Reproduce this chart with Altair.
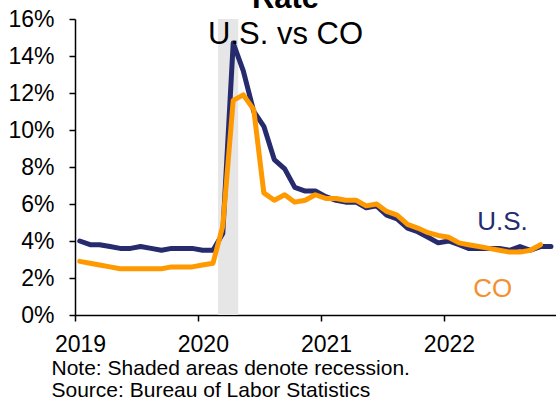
import altair as alt
import pandas as pd

# Monthly unemployment rate (%), Jan 2019 onward
US_RATE = [
    4.0, 3.8, 3.8, 3.7, 3.6, 3.6, 3.7, 3.6, 3.5, 3.6, 3.6, 3.6,
    3.5, 3.5, 4.4, 14.7, 13.2, 11.0, 10.2, 8.4, 7.9, 6.9, 6.7, 6.7,
    6.4, 6.2, 6.1, 6.1, 5.8, 5.9, 5.4, 5.2, 4.7, 4.5, 4.2, 3.9,
    4.0, 3.8, 3.6, 3.6, 3.6, 3.6, 3.5, 3.7, 3.5, 3.7, 3.7,
]
CO_RATE = [
    2.9, 2.8, 2.7, 2.6, 2.5, 2.5, 2.5, 2.5, 2.5, 2.6, 2.6, 2.6,
    2.7, 2.8, 4.8, 11.6, 11.9, 11.1, 6.6, 6.2, 6.5, 6.1, 6.2, 6.5,
    6.3, 6.3, 6.2, 6.2, 5.9, 6.0, 5.6, 5.4, 4.9, 4.7, 4.45, 4.3,
    4.2, 3.9, 3.8, 3.7, 3.6, 3.5, 3.4, 3.4, 3.5, 3.8,
]
MONTHS = [f"{y}-{m:02d}-15" for y in range(2019, 2023) for m in range(1, 13)]

RECESSION_START = ["2020-03-01"]
RECESSION_END = ["2020-04-30"]

YEARS = [2019, 2020, 2021, 2022]
Y_TICKS = [0, 2, 4, 6, 8, 10, 12, 14, 16]

SERIES_LABELS = ["U.S.", "CO"]
SERIES_LABEL_DATES = ["2022-06-24", "2022-05-26"]
SERIES_LABEL_RATES = [4.6, 0.97]

NAVY = "#262b6e"
ORANGE = "#ff9900"
CO_TEXT = "#f39130"
SHADE = "#e6e6e6"
FONT = "Liberation Sans"

us = pd.DataFrame({"date": MONTHS[:len(US_RATE)], "rate": US_RATE})
co = pd.DataFrame({"date": MONTHS[:len(CO_RATE)], "rate": CO_RATE})
rec = pd.DataFrame({"start": RECESSION_START, "end": RECESSION_END})
labels = pd.DataFrame({
    "text": SERIES_LABELS,
    "date": SERIES_LABEL_DATES,
    "rate": SERIES_LABEL_RATES,
    "color": [NAVY, CO_TEXT],
})

x_scale = alt.Scale(
    type="utc",
    domain=[
        alt.DateTime(year=2019, month=1, date=1, utc=True),
        alt.DateTime(year=2022, month=11, date=30, utc=True),
    ],
    nice=False,
)
x_axis = alt.Axis(
    values=[alt.DateTime(year=y, month=1, date=1, utc=True) for y in YEARS],
    format="%Y",
    formatType="utc",
    labelFlush=False,
    labelBaseline="alphabetic",
    labelPadding=30.5,
    labelOffset=5,
    title=["Note: Shaded areas denote recession.", "Source: Bureau of Labor Statistics"],
    titleFont=FONT,
    titleFontSize=21,
    titleFontWeight="normal",
    titleColor="black",
    titleAlign="left",
    titleBaseline="alphabetic",
    titleX=-24,
    titleY=59,
    titleLineHeight=22.5,
)
y_scale = alt.Scale(domain=[0, 16], nice=False)
y_axis = alt.Axis(
    values=Y_TICKS,
    labelExpr="datum.value + '%'",
    labelPadding=15,
    title=None,
)

shade = alt.Chart(rec).mark_rect(color=SHADE).encode(
    x=alt.X("start:T", scale=x_scale, axis=x_axis),
    x2="end:T",
)

us_line = alt.Chart(us).mark_line(
    color=NAVY, strokeWidth=5, strokeCap="round", strokeJoin="round"
).encode(
    x=alt.X("date:T", scale=x_scale, axis=x_axis),
    y=alt.Y("rate:Q", scale=y_scale, axis=y_axis),
)

co_line = alt.Chart(co).mark_line(
    color=ORANGE, strokeWidth=5, strokeCap="round", strokeJoin="round"
).encode(
    x=alt.X("date:T", scale=x_scale, axis=x_axis),
    y=alt.Y("rate:Q", scale=y_scale, axis=y_axis),
)

series_text = alt.Chart(labels).mark_text(
    font=FONT, fontSize=26, align="center", baseline="alphabetic"
).encode(
    x=alt.X("date:T", scale=x_scale, axis=x_axis),
    y=alt.Y("rate:Q", scale=y_scale, axis=y_axis),
    text="text:N",
    color=alt.Color("color:N", scale=None),
)

chart = alt.layer(shade, us_line, co_line, series_text).properties(
    width=481,
    height=296,
    padding={"left": 75, "top": 19, "right": 0, "bottom": 85},
    autosize=alt.AutoSizeParams(type="none"),
    background="white",
    title=alt.TitleParams(
        text="Rate",
        subtitle="U.S. vs CO",
        font=FONT,
        fontSize=31,
        fontWeight="bold",
        color="black",
        subtitleFont=FONT,
        subtitleFontSize=31,
        subtitleFontWeight="normal",
        subtitleColor="black",
        subtitlePadding=5,
        anchor="middle",
        frame="group",
        offset=-35,
        dx=-30,
        dy=8,
    ),
).configure_axis(
    domainColor="black",
    domainWidth=1.5,
    tickColor="black",
    tickWidth=1.5,
    tickSize=6,
    labelFont=FONT,
    labelFontSize=23,
    labelColor="black",
    grid=False,
).configure_view(stroke=None)

chart.save("out.html", embed_options={"renderer": "svg", "actions": False})
